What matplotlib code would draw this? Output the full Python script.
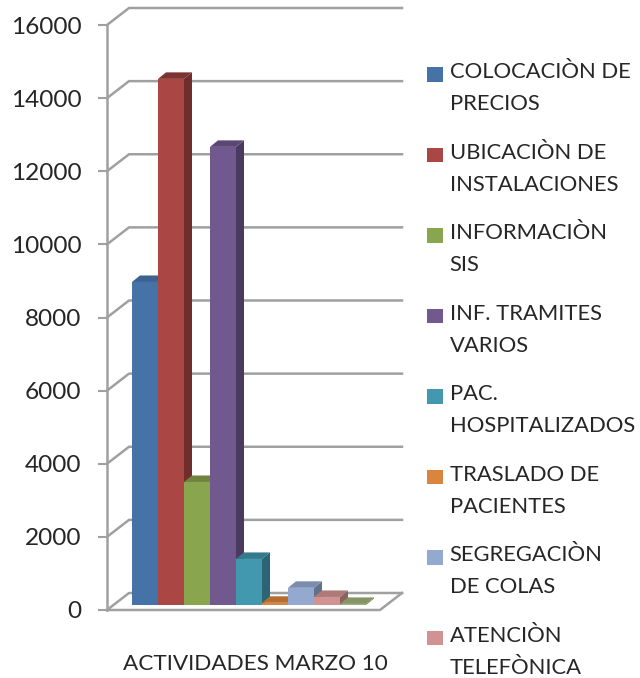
import matplotlib
matplotlib.use('Agg')
import matplotlib.pyplot as plt
from matplotlib.patches import Polygon, Rectangle
from matplotlib.container import BarContainer
from matplotlib.legend_handler import HandlerPatch, update_from_first_child

plt.rcParams['font.family'] = ['Lato', 'DejaVu Sans']

## datos
categorias = ['COLOCACIÒN DE\nPRECIOS', 'UBICACIÒN DE\nINSTALACIONES', 'INFORMACIÒN\nSIS',
              'INF. TRAMITES\nVARIOS', 'PAC.\nHOSPITALIZADOS', 'TRASLADO DE\nPACIENTES',
              'SEGREGACIÒN\nDE COLAS', 'ATENCIÒN\nTELEFÒNICA', None]
valores = [8835, 14390, 3365, 12530, 1260, 60, 470, 220, 30]
colores = ['#4572A7', '#AA4643', '#89A54E', '#71588F', '#4198AF', '#DB843D', '#93A9CF', '#D19392', '#9DB07A']
lados = ['#2F4D72', '#6F2D2B', '#5C6F34', '#4A3A5F', '#2A6475', '#91582A', '#62718B', '#8C6261', '#6E7B55']
techos = ['#3B6291', '#7C3331', '#6F853F', '#5B4774', '#337A8D', '#B56D32', '#7A8DAE', '#AD7A79', '#859565']
yticks = [0, 2000, 4000, 6000, 8000, 10000, 12000, 14000, 16000]
titulo_x = 'ACTIVIDADES MARZO 10'

## escalas (px por unidad) para armar el efecto 3D
py = 585 / 16000
px = 26
prof_x, prof_y = 22 / px, 17 / py   # profundidad de piso y pared
bar_x, bar_y = 8 / px, 6.5 / py     # profundidad de la barra
base = 5 / py                       # las barras arrancan adentro del piso
gris = '#A0A0A0'

fig = plt.figure(figsize=(6.4, 6.78), dpi=100)
ax = fig.add_axes([107 / 640, 68 / 678, 295 / 640, 602 / 678])
ax.set_xlim((107 - 145) / px, (402 - 145) / px)
ax.set_ylim(0, 602 / py)
x0, x1 = ax.get_xlim()
x_piso = x0 + 273 / px

for s in ['top', 'right', 'bottom']:
    ax.spines[s].set_visible(False)
ax.spines['left'].set_bounds(0, 16000)
ax.spines['left'].set_color(gris)
ax.spines['left'].set_linewidth(1.8)
ax.set_xticks([])
ax.set_yticks(yticks)
ax.tick_params(axis='y', length=6.5, width=1.5, color=gris, pad=12, labelsize=17.6, labelcolor='#262626')

## pared de atras y piso
for v in yticks:
    ax.plot([x0, x0 + prof_x, x1], [v, v + prof_y, v + prof_y], color=gris, lw=1.8, clip_on=False, zorder=1)
ax.plot([x0, x_piso, x1], [0, 0, prof_y], color=gris, lw=1.8, clip_on=False, zorder=1)

## barras
barras = []
for i, v in enumerate(valores):
    b = ax.bar(i, v, width=1, bottom=base, color=colores[i], zorder=2 + i)
    barras.append(b)
    d, t = i + 0.5, base + v
    ax.add_patch(Polygon([(d, base), (d + bar_x, base + bar_y), (d + bar_x, t + bar_y), (d, t)],
                         color=lados[i], lw=0, zorder=2 + i))
    ax.add_patch(Polygon([(i - 0.5, t), (i - 0.5 + bar_x, t + bar_y), (d + bar_x, t + bar_y), (d, t)],
                         color=techos[i], lw=0, zorder=2 + i))

ax.text(16 / 295, -54 / 602, titulo_x, transform=ax.transAxes, ha='left', va='center', fontsize=16.2, color='#262626')


def cuadro(legend, orig_handle, xdescent, ydescent, width, height, fontsize):
    # el cuadrito va a la altura de la primera linea del texto
    return Rectangle((-xdescent, -ydescent + 10), width, height)


leg = ax.legend(barras[:8], categorias[:8], loc='upper left', bbox_to_anchor=(427 / 640, 1 - 62 / 678),
                bbox_transform=fig.transFigure, frameon=False, fontsize=15.8, handlelength=0.73, handleheight=0.66,
                handletextpad=0.3, labelspacing=1.3, borderpad=0, borderaxespad=0, labelcolor='#262626',
                handler_map={BarContainer: HandlerPatch(patch_func=cuadro, update_func=update_from_first_child)})
for t in leg.get_texts():
    t.set_linespacing(1.75)

fig.savefig('out.png', dpi=100)
